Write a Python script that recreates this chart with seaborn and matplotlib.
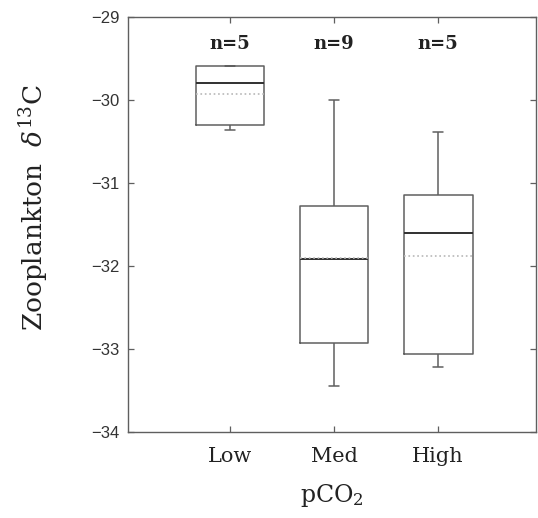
import numpy as np
import pandas as pd
import matplotlib
matplotlib.use('Agg')
import matplotlib.pyplot as plt
import seaborn as sns

# ── data ──────────────────────────────────────────────────────────
categories = ['Low', 'Med', 'High']

low_vals = [-30.36, -30.30, -29.80, -29.59, -29.59]
med_vals = [-33.45, -33.10, -32.93, -32.40, -31.92,
            -31.50, -31.28, -30.50, -30.00]
high_vals = [-33.22, -33.06, -31.60, -31.14, -30.39]

y_ticks = [-34, -33, -32, -31, -30, -29]

df = pd.DataFrame({
    'pco2': ['Low'] * len(low_vals) + ['Med'] * len(med_vals)
            + ['High'] * len(high_vals),
    'd13c': low_vals + med_vals + high_vals,
})

# ── style ─────────────────────────────────────────────────────────
sns.set_theme(style='ticks')
plt.rcParams['font.family'] = ['DejaVu Serif', 'DejaVu Sans']
plt.rcParams['mathtext.fontset'] = 'custom'
plt.rcParams['mathtext.rm'] = 'DejaVu Serif'
plt.rcParams['mathtext.it'] = 'DejaVu Serif:italic'

line_col = '#5f5f5f'

fig = plt.figure(figsize=(5.38, 5.18), dpi=100)
ax = fig.add_axes([128 / 538, 86 / 518, 408 / 538, 415 / 518])

sns.boxplot(data=df, x='pco2', y='d13c', order=categories,
            fill=False, width=0.66, whis=(0, 100),
            color=line_col, linewidth=1.1,
            showmeans=True, meanline=True,
            meanprops=dict(color='#b8b8b8', linestyle=':',
                           linewidth=1.2),
            medianprops=dict(color='#303030', linewidth=1.4),
            ax=ax)

# short whisker caps like the original
for line in ax.lines:
    xd = np.asarray(line.get_xdata(), dtype=float)
    yd = np.asarray(line.get_ydata(), dtype=float)
    if len(xd) == 2 and yd[0] == yd[1] and line.get_linestyle() == '-':
        if abs(xd[1] - xd[0]) < 0.5:
            c = xd.mean()
            line.set_xdata([c - 0.05, c + 0.05])

# sample sizes
for i, cat in enumerate(categories):
    n = (df['pco2'] == cat).sum()
    ax.text(i, -29.33, f'n={n}', ha='center', va='center',
            fontsize=13, fontweight='bold', color='#222222')

ax.set_xlim(-0.98, 2.94)
ax.set_ylim(-34, -29)
ax.set_yticks(y_ticks)
ax.set_yticklabels([f'{t}'.replace('-', '\u2212') for t in y_ticks],
                   fontfamily='Liberation Sans', fontsize=12,
                   color='#333333')
ax.tick_params(axis='x', labelsize=15, colors='#222222', pad=11)
ax.tick_params(axis='both', direction='in', length=4, width=0.9,
               color=line_col, top=True, right=True)
ax.tick_params(axis='y', pad=6)

ax.set_xlabel('pCO$_2$', fontsize=17, color='#222222')
ax.xaxis.set_label_coords(0.5, -0.12)
ax.set_ylabel('Zooplankton  $\\delta^{13}$C', fontsize=19,
              color='#222222')
ax.yaxis.set_label_coords(-0.19, 0.542)

for s in ax.spines.values():
    s.set_color(line_col)
    s.set_linewidth(1.0)

fig.savefig('out.png', dpi=100)
